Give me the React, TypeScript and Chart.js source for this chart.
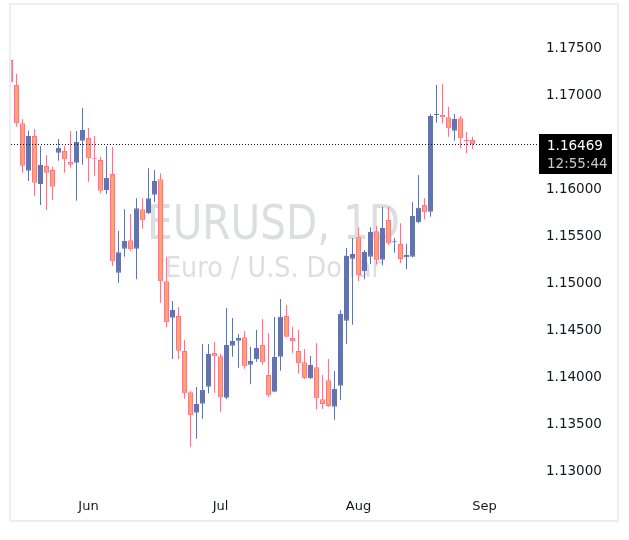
import React, { useEffect, useRef } from 'react';
import { Chart, registerables } from 'chart.js';

Chart.register(...registerables);

// daily EURUSD candles, oldest first
const opens = [
  1.17362, 1.17096, 1.16688, 1.16184, 1.16553, 1.16043, 1.16234, 1.16192, 1.16376, 1.16394,
  1.16277, 1.16269, 1.16503, 1.16532, 1.16309, 1.16298, 1.15979, 1.16149, 1.15099, 1.15354,
  1.15444, 1.15354, 1.15773, 1.15731, 1.15929, 1.16093, 1.15008, 1.1462, 1.14638, 1.14266,
  1.13827, 1.1361, 1.13705, 1.13886, 1.14245, 1.1421, 1.13769, 1.14322, 1.14376, 1.14412,
  1.1412, 1.14178, 1.1433, 1.14011, 1.13833, 1.14205, 1.14638, 1.14404, 1.14266, 1.14146,
  1.13976, 1.14093, 1.13752, 1.13954, 1.13674, 1.13897, 1.14588, 1.15248, 1.15476, 1.15114,
  1.15269, 1.15539, 1.15237, 1.1566, 1.15422, 1.15404, 1.15263, 1.15269, 1.15635, 1.15819,
  1.15748, 1.16777, 1.16777, 1.16752, 1.1661, 1.16741, 1.16503, 1.16511,
];
const highs = [
  1.17415, 1.17213, 1.16734, 1.1661, 1.16628, 1.16447, 1.16351, 1.16227, 1.16521, 1.16447,
  1.16606, 1.16606, 1.16851, 1.16638, 1.16553, 1.16333, 1.16447, 1.16436, 1.15543, 1.15773,
  1.15723, 1.1589, 1.1589, 1.1621, 1.16192, 1.16156, 1.15269, 1.14798, 1.14734, 1.14383,
  1.13844, 1.13883, 1.14341, 1.14341, 1.14362, 1.14234, 1.14723, 1.14617, 1.14447, 1.14479,
  1.14309, 1.14489, 1.14607, 1.14458, 1.14628, 1.14819, 1.14755, 1.14525, 1.14489, 1.14287,
  1.14213, 1.14351, 1.14011, 1.14181, 1.14053, 1.14702, 1.15362, 1.15468, 1.15582, 1.1534,
  1.15582, 1.15596, 1.15801, 1.15801, 1.15471, 1.15625, 1.15408, 1.15851, 1.16138, 1.1589,
  1.16787, 1.17096, 1.17106, 1.16865, 1.16787, 1.16766, 1.16599, 1.16546,
];
const lows = [
  1.16957, 1.16652, 1.16163, 1.16074, 1.15915, 1.15819, 1.15766, 1.15872, 1.1629, 1.16163,
  1.16216, 1.15865, 1.16248, 1.16067, 1.16131, 1.15944, 1.15936, 1.1517, 1.14993, 1.15269,
  1.15333, 1.15029, 1.15567, 1.15723, 1.15848, 1.1478, 1.14518, 1.14181, 1.14181, 1.13759,
  1.13248, 1.13333, 1.13546, 1.13816, 1.13822, 1.1362, 1.13752, 1.14205, 1.14088, 1.14078,
  1.13912, 1.14152, 1.1412, 1.13774, 1.13827, 1.14056, 1.14412, 1.14248, 1.14025, 1.13968,
  1.13968, 1.13646, 1.13652, 1.13674, 1.13535, 1.13745, 1.14341, 1.14546, 1.15008, 1.15029,
  1.15188, 1.15188, 1.15178, 1.15394, 1.15312, 1.15199, 1.15135, 1.15263, 1.15625, 1.15667,
  1.15695, 1.16695, 1.16688, 1.16546, 1.16503, 1.16422, 1.16369, 1.16415,
];
const closes = [
  1.17124, 1.16688, 1.16237, 1.16553, 1.16056, 1.16245, 1.16163, 1.16014, 1.16429, 1.16305,
  1.16248, 1.16489, 1.16617, 1.16316, 1.16305, 1.15971, 1.16106, 1.1522, 1.15316, 1.15436,
  1.15348, 1.15784, 1.15656, 1.1589, 1.16074, 1.15008, 1.14571, 1.14702, 1.14269, 1.13816,
  1.13582, 1.13702, 1.13851, 1.14234, 1.1421, 1.13774, 1.1433, 1.14372, 1.14404, 1.14103,
  1.1416, 1.14298, 1.14146, 1.13795, 1.14202, 1.14631, 1.14418, 1.14369, 1.14135, 1.13976,
  1.14117, 1.13763, 1.13702, 1.13681, 1.13862, 1.1466, 1.15277, 1.15298, 1.15071, 1.15319,
  1.15532, 1.15231, 1.15575, 1.15412, 1.15426, 1.15245, 1.15287, 1.15702, 1.1579, 1.15742,
  1.16766, 1.1678, 1.16752, 1.16635, 1.16734, 1.16529, 1.165, 1.16469,
];

const monthLabels = ['Jun', 'Jul', 'Aug', 'Sep'];
const monthStartIndex = [13, 35, 58, 79];
const priceTicks = [1.13, 1.135, 1.14, 1.145, 1.15, 1.155, 1.16, 1.17, 1.175];

const lastPrice = 1.16469;
const countdown = '12:55:44';
const symbolTitle = 'EURUSD, 1D';
const symbolName = 'Euro / U.S. Dollar';

const UP = '#6373ad';
const DOWN_FILL = '#ffa865';
const DOWN_LINE = '#f8788a';
const FONT = '"DejaVu Sans", sans-serif';

const isUp = (i: number) => closes[i] >= opens[i];

const framePlugin = {
  id: 'frame',
  beforeDraw(chart: any) {
    const { ctx } = chart;
    ctx.save();
    ctx.fillStyle = '#ffffff';
    ctx.fillRect(0, 0, chart.width, chart.height);
    ctx.restore();
  },
  beforeDatasetsDraw(chart: any) {
    // symbol watermark behind the candles
    const { ctx } = chart;
    ctx.save();
    ctx.fillStyle = 'rgba(120, 123, 134, 0.25)';
    ctx.textAlign = 'left';
    ctx.textBaseline = 'alphabetic';
    ctx.font = `48px ${FONT}`;
    ctx.fillText(symbolTitle, 147, 239, 253);
    ctx.font = `29px ${FONT}`;
    ctx.fillText(symbolName, 165, 277, 217);
    ctx.restore();
  },
  afterDatasetsDraw(chart: any) {
    const { ctx, chartArea } = chart;
    const y = Math.round(chart.scales.y.getPixelForValue(lastPrice)) + 0.5;
    ctx.save();
    ctx.strokeStyle = '#131722';
    ctx.lineWidth = 1;
    ctx.setLineDash([1, 2]);
    ctx.beginPath();
    ctx.moveTo(chartArea.left, y);
    ctx.lineTo(chartArea.right + 2, y);
    ctx.stroke();
    ctx.setLineDash([]);
    ctx.fillStyle = '#000000';
    ctx.fillRect(539, y - 10.5, 73, 40);
    ctx.textAlign = 'left';
    ctx.textBaseline = 'middle';
    ctx.font = `13.5px ${FONT}`;
    ctx.fillStyle = '#ffffff';
    ctx.fillText(lastPrice.toFixed(5), 547, y + 1.5);
    ctx.fillStyle = '#c9cbd1';
    ctx.fillText(countdown, 547, y + 19.5);
    ctx.restore();
  },
  afterDraw(chart: any) {
    const { ctx } = chart;
    ctx.save();
    ctx.strokeStyle = '#eceef2';
    ctx.lineWidth = 2;
    ctx.strokeRect(10, 4, 608, 517);
    ctx.restore();
  },
};

export default function App() {
  const canvasRef = useRef<HTMLCanvasElement>(null);
  const chartRef = useRef<Chart | null>(null);

  useEffect(() => {
    document.body.style.margin = '0';
    if (!canvasRef.current) return;
    if (chartRef.current) chartRef.current.destroy();

    const idx = opens.map((_, i) => i);

    chartRef.current = new Chart(canvasRef.current, {
      type: 'bar',
      data: {
        datasets: [
          {
            label: 'body',
            data: idx.map((i) => ({ x: i, y: [opens[i], closes[i]] })),
            backgroundColor: idx.map((i) => (isUp(i) ? UP : DOWN_FILL)),
            borderColor: idx.map((i) => (isUp(i) ? UP : DOWN_LINE)),
            borderWidth: 1,
            borderSkipped: false,
            barThickness: 5,
            minBarLength: 1,
            grouped: false,
            inflateAmount: 0,
            order: 0,
          } as any,
          {
            label: 'wick',
            data: idx.map((i) => ({ x: i, y: [lows[i], highs[i]] })),
            backgroundColor: idx.map((i) => (isUp(i) ? UP : DOWN_LINE)),
            borderWidth: 0,
            barThickness: 1,
            grouped: false,
            inflateAmount: 0,
            order: 1,
          } as any,
        ],
      },
      options: {
        responsive: false,
        animation: false,
        layout: { padding: { left: 11, right: 11, top: 5, bottom: 18 } },
        plugins: {
          legend: { display: false },
          tooltip: { enabled: false },
        },
        scales: {
          x: {
            type: 'linear',
            offset: false,
            min: 0.0833,
            max: 87.4167,
            grid: { display: false, drawTicks: false },
            border: { display: false },
            afterBuildTicks: (scale: any) => {
              scale.ticks = monthStartIndex.map((v) => ({ value: v }));
            },
            afterFit: (scale: any) => {
              scale.height = 32;
              scale.paddingLeft = 0;
              scale.paddingRight = 0;
            },
            ticks: {
              autoSkip: false,
              maxRotation: 0,
              padding: 9,
              color: '#131722',
              font: { family: FONT, size: 13 },
              callback: (v: any) => monthLabels[monthStartIndex.indexOf(v)] ?? '',
            },
          },
          y: {
            type: 'linear',
            position: 'right',
            min: 1.127872,
            max: 1.179468,
            grid: { display: false, drawTicks: false },
            border: { display: false },
            afterBuildTicks: (scale: any) => {
              scale.ticks = priceTicks.map((v) => ({ value: v }));
            },
            afterFit: (scale: any) => {
              scale.width = 83;
              scale.paddingTop = 0;
              scale.paddingBottom = 0;
            },
            ticks: {
              padding: 11,
              labelOffset: 2,
              color: '#131722',
              font: { family: FONT, size: 13.5 },
              callback: (v: any) => Number(v).toFixed(5),
            },
          },
        },
      },
      plugins: [framePlugin],
    });

    return () => {
      if (chartRef.current) {
        chartRef.current.destroy();
        chartRef.current = null;
      }
    };
  }, []);

  return (
    <div style={{ width: 629, height: 540 }}>
      <canvas ref={canvasRef} width={629} height={540} />
    </div>
  );
}
